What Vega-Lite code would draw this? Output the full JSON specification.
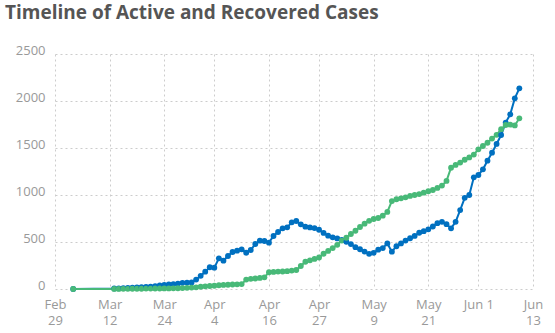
{
  "$schema": "https://vega.github.io/schema/vega-lite/v6.json",
  "width": 478,
  "height": 235,
  "autosize": {"type": "none"},
  "padding": {"left": 55, "top": 54, "right": 22, "bottom": 44},
  "background": "white",
  "title": {
    "text": "Timeline of Active and Recovered Cases",
    "anchor": "start",
    "frame": "group",
    "dx": -50,
    "offset": 21,
    "font": "Open Sans",
    "fontSize": 19,
    "fontWeight": "bold",
    "color": "#555555"
  },
  "config": {
    "view": {"stroke": null},
    "font": "Open Sans"
  },
  "datasets": {
    "cases": [
      {"date": "2020-03-04", "series": "Active", "value": 0},
      {"date": "2020-03-13", "series": "Active", "value": 5},
      {"date": "2020-03-14", "series": "Active", "value": 7},
      {"date": "2020-03-15", "series": "Active", "value": 9},
      {"date": "2020-03-16", "series": "Active", "value": 11},
      {"date": "2020-03-17", "series": "Active", "value": 13},
      {"date": "2020-03-18", "series": "Active", "value": 16},
      {"date": "2020-03-19", "series": "Active", "value": 19},
      {"date": "2020-03-20", "series": "Active", "value": 22},
      {"date": "2020-03-21", "series": "Active", "value": 25},
      {"date": "2020-03-22", "series": "Active", "value": 30},
      {"date": "2020-03-23", "series": "Active", "value": 38},
      {"date": "2020-03-24", "series": "Active", "value": 43},
      {"date": "2020-03-25", "series": "Active", "value": 48},
      {"date": "2020-03-26", "series": "Active", "value": 52},
      {"date": "2020-03-27", "series": "Active", "value": 58},
      {"date": "2020-03-28", "series": "Active", "value": 66},
      {"date": "2020-03-29", "series": "Active", "value": 68},
      {"date": "2020-03-30", "series": "Active", "value": 70},
      {"date": "2020-03-31", "series": "Active", "value": 100},
      {"date": "2020-04-01", "series": "Active", "value": 140},
      {"date": "2020-04-02", "series": "Active", "value": 184},
      {"date": "2020-04-03", "series": "Active", "value": 231},
      {"date": "2020-04-04", "series": "Active", "value": 227},
      {"date": "2020-04-05", "series": "Active", "value": 326},
      {"date": "2020-04-06", "series": "Active", "value": 301},
      {"date": "2020-04-07", "series": "Active", "value": 351},
      {"date": "2020-04-08", "series": "Active", "value": 394},
      {"date": "2020-04-09", "series": "Active", "value": 408},
      {"date": "2020-04-10", "series": "Active", "value": 422},
      {"date": "2020-04-11", "series": "Active", "value": 386},
      {"date": "2020-04-12", "series": "Active", "value": 415},
      {"date": "2020-04-13", "series": "Active", "value": 479},
      {"date": "2020-04-14", "series": "Active", "value": 514},
      {"date": "2020-04-15", "series": "Active", "value": 511},
      {"date": "2020-04-16", "series": "Active", "value": 493},
      {"date": "2020-04-17", "series": "Active", "value": 564},
      {"date": "2020-04-18", "series": "Active", "value": 606},
      {"date": "2020-04-19", "series": "Active", "value": 645},
      {"date": "2020-04-20", "series": "Active", "value": 656},
      {"date": "2020-04-21", "series": "Active", "value": 709},
      {"date": "2020-04-22", "series": "Active", "value": 723},
      {"date": "2020-04-23", "series": "Active", "value": 688},
      {"date": "2020-04-24", "series": "Active", "value": 663},
      {"date": "2020-04-25", "series": "Active", "value": 655},
      {"date": "2020-04-26", "series": "Active", "value": 648},
      {"date": "2020-04-27", "series": "Active", "value": 630},
      {"date": "2020-04-28", "series": "Active", "value": 597},
      {"date": "2020-04-29", "series": "Active", "value": 567},
      {"date": "2020-04-30", "series": "Active", "value": 550},
      {"date": "2020-05-01", "series": "Active", "value": 538},
      {"date": "2020-05-02", "series": "Active", "value": 522},
      {"date": "2020-05-03", "series": "Active", "value": 503},
      {"date": "2020-05-04", "series": "Active", "value": 478},
      {"date": "2020-05-05", "series": "Active", "value": 445},
      {"date": "2020-05-06", "series": "Active", "value": 423},
      {"date": "2020-05-07", "series": "Active", "value": 398},
      {"date": "2020-05-08", "series": "Active", "value": 374},
      {"date": "2020-05-09", "series": "Active", "value": 385},
      {"date": "2020-05-10", "series": "Active", "value": 418},
      {"date": "2020-05-11", "series": "Active", "value": 435},
      {"date": "2020-05-12", "series": "Active", "value": 485},
      {"date": "2020-05-13", "series": "Active", "value": 397},
      {"date": "2020-05-14", "series": "Active", "value": 455},
      {"date": "2020-05-15", "series": "Active", "value": 485},
      {"date": "2020-05-16", "series": "Active", "value": 515},
      {"date": "2020-05-17", "series": "Active", "value": 540},
      {"date": "2020-05-18", "series": "Active", "value": 565},
      {"date": "2020-05-19", "series": "Active", "value": 598},
      {"date": "2020-05-20", "series": "Active", "value": 615},
      {"date": "2020-05-21", "series": "Active", "value": 635},
      {"date": "2020-05-22", "series": "Active", "value": 665},
      {"date": "2020-05-23", "series": "Active", "value": 700},
      {"date": "2020-05-24", "series": "Active", "value": 715},
      {"date": "2020-05-25", "series": "Active", "value": 690},
      {"date": "2020-05-26", "series": "Active", "value": 645},
      {"date": "2020-05-27", "series": "Active", "value": 715},
      {"date": "2020-05-28", "series": "Active", "value": 840},
      {"date": "2020-05-29", "series": "Active", "value": 970},
      {"date": "2020-05-30", "series": "Active", "value": 1000},
      {"date": "2020-05-31", "series": "Active", "value": 1188},
      {"date": "2020-06-01", "series": "Active", "value": 1213},
      {"date": "2020-06-02", "series": "Active", "value": 1273},
      {"date": "2020-06-03", "series": "Active", "value": 1365},
      {"date": "2020-06-04", "series": "Active", "value": 1450},
      {"date": "2020-06-05", "series": "Active", "value": 1543},
      {"date": "2020-06-06", "series": "Active", "value": 1638},
      {"date": "2020-06-07", "series": "Active", "value": 1770},
      {"date": "2020-06-08", "series": "Active", "value": 1858},
      {"date": "2020-06-09", "series": "Active", "value": 2028},
      {"date": "2020-06-10", "series": "Active", "value": 2135},
      {"date": "2020-03-04", "series": "Recovered", "value": 0},
      {"date": "2020-03-13", "series": "Recovered", "value": 1},
      {"date": "2020-03-14", "series": "Recovered", "value": 1},
      {"date": "2020-03-15", "series": "Recovered", "value": 2},
      {"date": "2020-03-16", "series": "Recovered", "value": 2},
      {"date": "2020-03-17", "series": "Recovered", "value": 3},
      {"date": "2020-03-18", "series": "Recovered", "value": 3},
      {"date": "2020-03-19", "series": "Recovered", "value": 3},
      {"date": "2020-03-20", "series": "Recovered", "value": 4},
      {"date": "2020-03-21", "series": "Recovered", "value": 4},
      {"date": "2020-03-22", "series": "Recovered", "value": 5},
      {"date": "2020-03-23", "series": "Recovered", "value": 5},
      {"date": "2020-03-24", "series": "Recovered", "value": 6},
      {"date": "2020-03-25", "series": "Recovered", "value": 6},
      {"date": "2020-03-26", "series": "Recovered", "value": 7},
      {"date": "2020-03-27", "series": "Recovered", "value": 8},
      {"date": "2020-03-28", "series": "Recovered", "value": 10},
      {"date": "2020-03-29", "series": "Recovered", "value": 12},
      {"date": "2020-03-30", "series": "Recovered", "value": 15},
      {"date": "2020-03-31", "series": "Recovered", "value": 18},
      {"date": "2020-04-01", "series": "Recovered", "value": 24},
      {"date": "2020-04-02", "series": "Recovered", "value": 28},
      {"date": "2020-04-03", "series": "Recovered", "value": 32},
      {"date": "2020-04-04", "series": "Recovered", "value": 35},
      {"date": "2020-04-05", "series": "Recovered", "value": 40},
      {"date": "2020-04-06", "series": "Recovered", "value": 43},
      {"date": "2020-04-07", "series": "Recovered", "value": 45},
      {"date": "2020-04-08", "series": "Recovered", "value": 48},
      {"date": "2020-04-09", "series": "Recovered", "value": 50},
      {"date": "2020-04-10", "series": "Recovered", "value": 52},
      {"date": "2020-04-11", "series": "Recovered", "value": 100},
      {"date": "2020-04-12", "series": "Recovered", "value": 108},
      {"date": "2020-04-13", "series": "Recovered", "value": 112},
      {"date": "2020-04-14", "series": "Recovered", "value": 118},
      {"date": "2020-04-15", "series": "Recovered", "value": 124},
      {"date": "2020-04-16", "series": "Recovered", "value": 178},
      {"date": "2020-04-17", "series": "Recovered", "value": 182},
      {"date": "2020-04-18", "series": "Recovered", "value": 185},
      {"date": "2020-04-19", "series": "Recovered", "value": 186},
      {"date": "2020-04-20", "series": "Recovered", "value": 190},
      {"date": "2020-04-21", "series": "Recovered", "value": 196},
      {"date": "2020-04-22", "series": "Recovered", "value": 202},
      {"date": "2020-04-23", "series": "Recovered", "value": 245},
      {"date": "2020-04-24", "series": "Recovered", "value": 290},
      {"date": "2020-04-25", "series": "Recovered", "value": 305},
      {"date": "2020-04-26", "series": "Recovered", "value": 320},
      {"date": "2020-04-27", "series": "Recovered", "value": 335},
      {"date": "2020-04-28", "series": "Recovered", "value": 375},
      {"date": "2020-04-29", "series": "Recovered", "value": 405},
      {"date": "2020-04-30", "series": "Recovered", "value": 435},
      {"date": "2020-05-01", "series": "Recovered", "value": 470},
      {"date": "2020-05-02", "series": "Recovered", "value": 515},
      {"date": "2020-05-03", "series": "Recovered", "value": 545},
      {"date": "2020-05-04", "series": "Recovered", "value": 585},
      {"date": "2020-05-05", "series": "Recovered", "value": 620},
      {"date": "2020-05-06", "series": "Recovered", "value": 660},
      {"date": "2020-05-07", "series": "Recovered", "value": 695},
      {"date": "2020-05-08", "series": "Recovered", "value": 725},
      {"date": "2020-05-09", "series": "Recovered", "value": 745},
      {"date": "2020-05-10", "series": "Recovered", "value": 755},
      {"date": "2020-05-11", "series": "Recovered", "value": 780},
      {"date": "2020-05-12", "series": "Recovered", "value": 820},
      {"date": "2020-05-13", "series": "Recovered", "value": 935},
      {"date": "2020-05-14", "series": "Recovered", "value": 955},
      {"date": "2020-05-15", "series": "Recovered", "value": 965},
      {"date": "2020-05-16", "series": "Recovered", "value": 975},
      {"date": "2020-05-17", "series": "Recovered", "value": 990},
      {"date": "2020-05-18", "series": "Recovered", "value": 1000},
      {"date": "2020-05-19", "series": "Recovered", "value": 1010},
      {"date": "2020-05-20", "series": "Recovered", "value": 1025},
      {"date": "2020-05-21", "series": "Recovered", "value": 1040},
      {"date": "2020-05-22", "series": "Recovered", "value": 1053},
      {"date": "2020-05-23", "series": "Recovered", "value": 1075},
      {"date": "2020-05-24", "series": "Recovered", "value": 1100},
      {"date": "2020-05-25", "series": "Recovered", "value": 1150},
      {"date": "2020-05-26", "series": "Recovered", "value": 1290},
      {"date": "2020-05-27", "series": "Recovered", "value": 1320},
      {"date": "2020-05-28", "series": "Recovered", "value": 1345},
      {"date": "2020-05-29", "series": "Recovered", "value": 1375},
      {"date": "2020-05-30", "series": "Recovered", "value": 1400},
      {"date": "2020-05-31", "series": "Recovered", "value": 1430},
      {"date": "2020-06-01", "series": "Recovered", "value": 1486},
      {"date": "2020-06-02", "series": "Recovered", "value": 1521},
      {"date": "2020-06-03", "series": "Recovered", "value": 1556},
      {"date": "2020-06-04", "series": "Recovered", "value": 1600},
      {"date": "2020-06-05", "series": "Recovered", "value": 1640},
      {"date": "2020-06-06", "series": "Recovered", "value": 1700},
      {"date": "2020-06-07", "series": "Recovered", "value": 1745},
      {"date": "2020-06-08", "series": "Recovered", "value": 1748},
      {"date": "2020-06-09", "series": "Recovered", "value": 1740},
      {"date": "2020-06-10", "series": "Recovered", "value": 1816}
    ]
  },
  "data": {"name": "cases"},
  "mark": {"type": "line", "strokeWidth": 2, "point": {"filled": true, "size": 34, "opacity": 1}},
  "encoding": {
    "x": {
      "field": "date",
      "type": "temporal",
      "scale": {
        "type": "utc",
        "domain": [
          {"year": 2020, "month": 2, "date": 29, "utc": true},
          {"year": 2020, "month": 6, "date": 13, "utc": true}
        ]
      },
      "axis": {
        "title": null,
        "domain": false,
        "ticks": false,
        "grid": true,
        "gridColor": "#cccccc",
        "gridDash": [2, 3],
        "gridWidth": 1,
        "values": [
          {"year": 2020, "month": 2, "date": 29, "utc": true},
          {"year": 2020, "month": 3, "date": 12, "utc": true},
          {"year": 2020, "month": 3, "date": 24, "utc": true},
          {"year": 2020, "month": 4, "date": 4, "utc": true},
          {"year": 2020, "month": 4, "date": 16, "utc": true},
          {"year": 2020, "month": 4, "date": 27, "utc": true},
          {"year": 2020, "month": 5, "date": 9, "utc": true},
          {"year": 2020, "month": 5, "date": 21, "utc": true},
          {"year": 2020, "month": 6, "date": 1, "utc": true},
          {"year": 2020, "month": 6, "date": 13, "utc": true}
        ],
        "labelExpr": "utcFormat(datum.value, '%b %-d') == 'Jun 1' ? 'Jun 1' : [utcFormat(datum.value, '%b'), utcFormat(datum.value, '%-d')]",
        "labelFont": "Open Sans",
        "labelFontSize": 13,
        "labelColor": "#999999",
        "labelPadding": 9,
        "labelLineHeight": 16,
        "labelFlush": false,
        "labelOverlap": false
      }
    },
    "y": {
      "field": "value",
      "type": "quantitative",
      "scale": {"domain": [0, 2500], "nice": false},
      "axis": {
        "title": null,
        "domain": false,
        "ticks": false,
        "values": [0, 500, 1000, 1500, 2000, 2500],
        "grid": true,
        "gridColor": "#cccccc",
        "gridDash": [2, 3],
        "gridWidth": 1,
        "labelFont": "Open Sans",
        "labelFontSize": 13,
        "labelColor": "#999999",
        "labelPadding": 10,
        "labelBaseline": "alphabetic",
        "format": "d"
      }
    },
    "color": {
      "field": "series",
      "type": "nominal",
      "scale": {"domain": ["Active", "Recovered"], "range": ["#0070c0", "#48b978"]},
      "legend": null
    },
    "order": {"field": "date", "type": "temporal"}
  }
}
